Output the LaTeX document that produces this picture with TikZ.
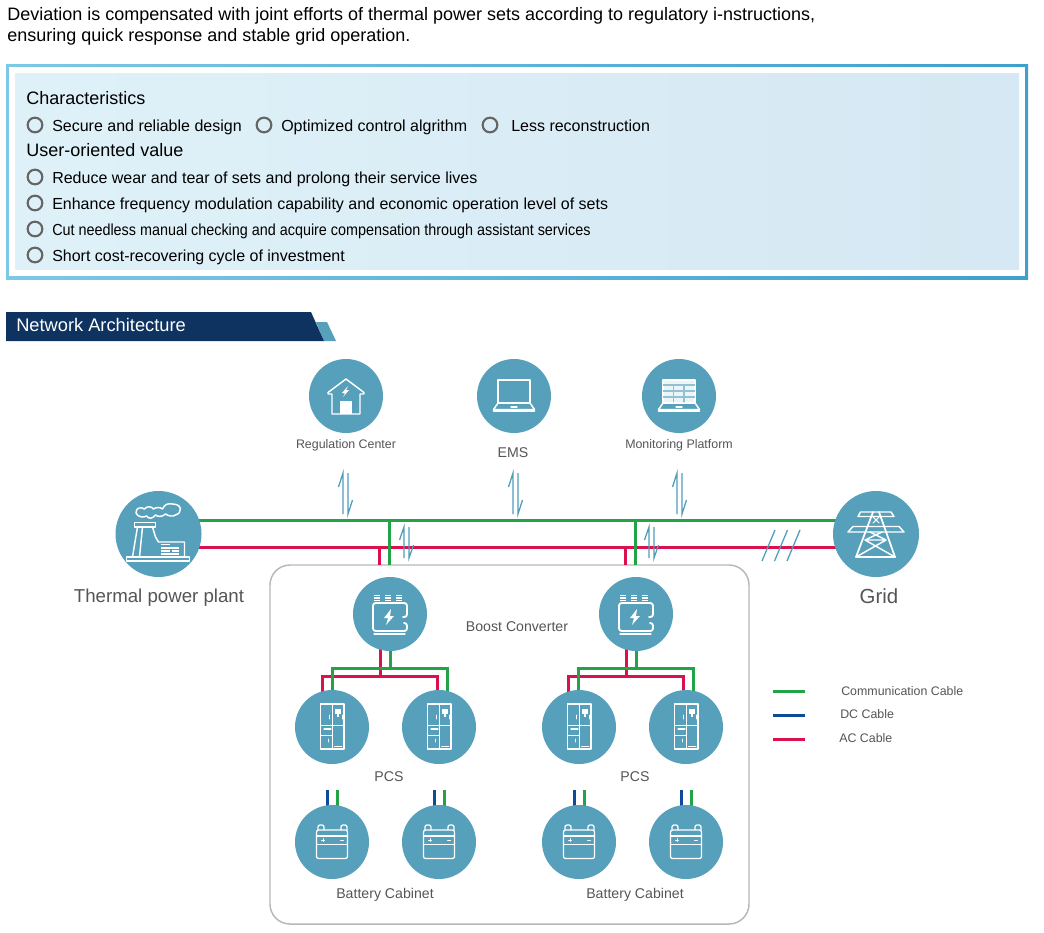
\documentclass[tikz,border=0pt]{standalone}
\usepackage{fontspec}
\setmainfont{Liberation Sans}
\newfontfamily\condfont[FakeStretch=0.898]{Liberation Sans}
\definecolor{tealc}{HTML}{56A0BB}
\definecolor{navyc}{HTML}{0E3360}
\definecolor{greenc}{HTML}{23A347}
\definecolor{redc}{HTML}{D9124E}
\definecolor{bluec}{HTML}{0F4A9A}
\definecolor{labelc}{HTML}{555555}
\definecolor{arrowc}{HTML}{4E9DBB}
\definecolor{ringc}{HTML}{666666}
\newcommand\txtF[1]{\fontsize{#1}{#1}\selectfont}
\tikzset{
  bigc/.style={circle,fill=tealc,minimum size=55.5pt,inner sep=0pt},
  hugec/.style={circle,fill=tealc,minimum size=64.5pt,inner sep=0pt},
  ico/.style={draw=white,line width=1.1pt,line join=round,line cap=round},
  lab/.style={text=labelc,inner sep=0pt,font=\txtF{9.3}},
  midlab/.style={text=labelc,inner sep=0pt,font=\txtF{10.6}},
  biglab/.style={text=labelc,inner sep=0pt},
  body/.style={anchor=base west,inner sep=0pt,text=black,font=\txtF{12}},
  headb/.style={anchor=base west,inner sep=0pt,text=black,font=\txtF{13.5}},
  greenl/.style={draw=greenc,line width=2.25pt},
  redl/.style={draw=redc,line width=2.25pt},
  bluel/.style={draw=bluec,line width=2.25pt},
  halfa/.style={draw=arrowc,line width=0.95pt},
  ringb/.style={draw=ringc,line width=1.6pt,circle,minimum size=11pt,inner sep=0pt},
}
\newcommand\halfpair[5]{%
  \coordinate (#1ut) at (#2,#3);
  \coordinate (#1ub) at (#2,#4);
  \coordinate (#1ub2) at (#2-4.5,#3+#5);
  \coordinate (#1dt) at (#2+5,#3);
  \coordinate (#1db) at (#2+5,#4);
  \coordinate (#1db2) at (#2+9.5,#4-#5);
  \draw[halfa] (#1ub2) -- (#1ut) -- (#1ub);
  \draw[halfa] (#1dt) -- (#1db) -- (#1db2);
}
\newcommand\laptopbase{%
  \draw[ico] (-16,7) -- (-20.5,13.5) -- (20.5,13.5) -- (16,7) -- cycle;
  \draw[ico,line width=1.4pt] (-20.5,15) -- (20.5,15);
  \draw[ico] (-3,11) -- (3,11);
}
\newcommand\pcsicon[2]{%
 \begin{scope}[shift={(#1,#2)}]
  \draw[ico] (-11.5,-23) rectangle (12,22);
  \draw[ico,line width=.55pt] (0.5,-23) -- (0.5,22) (-11.5,-2) -- (12,-2) (-11.5,8) -- (0.5,8);
  \fill[white] (2.5,-18) rectangle (9,-13);
  \fill[white] (5,-13) rectangle (7,-10.5);
  \draw[ico,line width=.55pt] (-3,-12) -- (-3,-8) (10,-12) -- (10,-8);
  \draw[ico,line width=.8pt] (-8,2) -- (-1,2);
  \draw[ico,line width=.7pt] (-4,12) -- (-4,15);
  \draw[ico,line width=.7pt] (2.5,19) -- (10,19);
 \end{scope}}
\newcommand\batticon[2]{%
 \begin{scope}[shift={(#1,#2)}]
  \draw[ico,line width=.95pt,rounded corners=1.5pt] (-15.5,-12) rectangle (15.5,16.5);
  \draw[ico,line width=.8pt] (-15.5,-6) -- (15.5,-6) (-15.5,2.3) -- (15.5,2.3);
  \draw[ico,line width=.95pt,rounded corners=1.5pt] (-14,-12) -- (-14,-17) -- (-8,-17) -- (-8,-12);
  \draw[ico,line width=.95pt,rounded corners=1.5pt] (9,-12) -- (9,-17) -- (15,-17) -- (15,-12);
  \draw[ico,line width=.5pt] (-10.5,-2) -- (-7.5,-2) (-9,-3.5) -- (-9,-.5) (8.5,-2) -- (11.5,-2);
 \end{scope}}
\newcommand\convicon[2]{%
 \begin{scope}[shift={(#1,#2)}]
  \foreach \cx in {-13,-2,9}{
    \draw[ico,line width=1pt,line cap=butt] (\cx-3,-18.5) -- (\cx+3,-18.5) (\cx-3,-16) -- (\cx+3,-16) (\cx-3,-13.5) -- (\cx+3,-13.5);
  }
  \draw[ico,line width=1.4pt,rounded corners=2pt] (13,3) -- (17,3) -- (17,-11) -- (-17,-11) -- (-17,17) -- (17,17) -- (17,9) -- (14,9);
  \draw[ico,line width=.9pt] (-16,20) -- (15,20);
  \fill[white] (1,-5) -- (-6,4) -- (-2,4) -- (-4,11) -- (4,2) -- (0,2) -- cycle;
 \end{scope}}
\begin{document}
\begin{tikzpicture}[x=0.75pt,y=-0.75pt]
\useasboundingbox (0,0) rectangle (1044,932);
\fill[white] (0,0) rectangle (1044,932);

% header text
\node[headb] (t1) at (7,20) {Deviation is compensated with joint efforts of thermal power sets according to regulatory i-nstructions,};
\node[headb] (t2) at (7,41) {ensuring quick response and stable grid operation.};

% framed panel
\shade[left color={rgb,255:red,124;green,200;blue,230},right color={rgb,255:red,63;green,160;blue,204}] (6,64) rectangle (1028,279);
\fill[white] (9,67) rectangle (1025,276);
\shade[left color={rgb,255:red,223;green,241;blue,248},right color={rgb,255:red,213;green,232;blue,243}] (15,73) rectangle (1019,269);

\node[headb] (c0) at (26,104) {Characteristics};
\node[ringb] (r1) at (35,125) {};
\node[body] (c1) at (52,131) {Secure and reliable design};
\node[ringb] (r2) at (264,125) {};
\node[body] (c2) at (281,131) {Optimized control algrithm};
\node[ringb] (r3) at (490,125) {};
\node[body] (c3) at (511,131) {Less reconstruction};
\node[headb] (u0) at (26,156) {User-oriented value};
\node[ringb] (r4) at (35,177) {};
\node[body] (u1) at (52,183) {Reduce wear and tear of sets and prolong their service lives};
\node[ringb] (r5) at (35,203) {};
\node[body] (u2) at (52,209) {Enhance frequency modulation capability and economic operation level of sets};
\node[ringb] (r6) at (35,229) {};
\node[body] (u3) at (52,235) {\condfont Cut needless manual checking and acquire compensation through assistant services};
\node[ringb] (r7) at (35,255) {};
\node[body] (u4) at (52,261) {Short cost-recovering cycle of investment};

% banner
\fill[tealc] (316,322) -- (327,322) -- (336,341) -- (324,341) -- cycle;
\fill[navyc] (6,312) -- (311,312) -- (324,341) -- (6,341) -- cycle;
\node[anchor=base west,inner sep=0pt,text=white,font=\txtF{13.7}] (nt) at (16,331) {Network Architecture};

% rounded container
\draw[draw=black!28,line width=1.1pt,rounded corners=15pt] (270,565) rectangle (749,924);

% named connection points
\coordinate (busGl) at (195,520);
\coordinate (busGr) at (840,520);
\coordinate (busRl) at (195,547);
\coordinate (busRr) at (840,547);
\coordinate (gv1t) at (389,520);
\coordinate (gv1b) at (389,565);
\coordinate (rv1t) at (379,547);
\coordinate (rv1b) at (379,565);
\coordinate (gv2t) at (635,520);
\coordinate (gv2b) at (635,565);
\coordinate (rv2t) at (625,547);
\coordinate (rv2b) at (625,565);

\draw[greenl] (busGl) -- (busGr);
\draw[redl] (busRl) -- (busRr);
\draw[redl] (rv1t) -- (rv1b);
\draw[redl] (rv2t) -- (rv2b);
\draw[greenl] (gv1t) -- (gv1b);
\draw[greenl] (gv2t) -- (gv2b);

% Branch wiring under converters
\foreach \nm/\ox in {a/0,b/246}{
  \coordinate (\nm rt) at (380+\ox,645);
  \coordinate (\nm rj) at (380+\ox,676);
  \coordinate (\nm gt) at (390+\ox,645);
  \coordinate (\nm gj) at (390+\ox,668);
  \coordinate (\nm gl) at (332+\ox,668);
  \coordinate (\nm gld) at (332+\ox,695);
  \coordinate (\nm gr) at (447+\ox,668);
  \coordinate (\nm grd) at (447+\ox,695);
  \coordinate (\nm rl) at (322+\ox,676);
  \coordinate (\nm rld) at (322+\ox,695);
  \coordinate (\nm rr) at (437+\ox,676);
  \coordinate (\nm rrd) at (437+\ox,695);
  \draw[redl] (\nm rt) -- (\nm rj);
  \draw[redl] (\nm rld) -- (\nm rl) -- (\nm rr) -- (\nm rrd);
  \draw[greenl] (\nm gt) -- (\nm gj);
  \draw[greenl] (\nm gld) -- (\nm gl) -- (\nm gr) -- (\nm grd);
}
% battery stubs
\foreach \nm/\bx in {p/332,q/439,s/579,t/686}{
  \coordinate (\nm bt) at (\bx-5,790);
  \coordinate (\nm bb) at (\bx-5,810);
  \coordinate (\nm gt) at (\bx+5,790);
  \coordinate (\nm gb) at (\bx+5,810);
  \draw[bluel] (\nm bt) -- (\nm bb);
  \draw[greenl] (\nm gt) -- (\nm gb);
}

% half arrow pairs and slashes
\halfpair{h1}{343}{473}{514}{14}
\halfpair{h2}{513}{473}{514}{14}
\halfpair{h3}{677}{473}{514}{14}
\halfpair{h4}{404}{527}{558}{13}
\halfpair{h5}{649}{527}{558}{13}
\foreach \nm/\sx in {sa/762,sb/774.5,sc/787}{
  \coordinate (\nm l) at (\sx,561);
  \coordinate (\nm u) at (\sx+13,530);
  \draw[halfa] (\nm l) -- (\nm u);
}

% circles
\node[bigc] (reg) at (346,396) {};
\node[bigc] (ems) at (514,396) {};
\node[bigc] (mon) at (679,396) {};
\node[hugec] (therm) at (158.5,534) {};
\node[hugec] (grid) at (876,534) {};
\node[bigc] (conv1) at (390,614) {};
\node[bigc] (conv2) at (636,614) {};
\node[bigc] (pcs1) at (332,727) {};
\node[bigc] (pcs2) at (439,727) {};
\node[bigc] (pcs3) at (579,727) {};
\node[bigc] (pcs4) at (686,727) {};
\node[bigc] (bat1) at (332,842) {};
\node[bigc] (bat2) at (439,842) {};
\node[bigc] (bat3) at (579,842) {};
\node[bigc] (bat4) at (686,842) {};

% house icon
\begin{scope}[shift={(346,396)}]
  \draw[ico] (-14,-2) -- (-18,-2) -- (-18,-3.5) -- (0,-17) -- (18,-3.5) -- (18,-2) -- (14,-2) -- (14,18) -- (-14,18) -- cycle;
  \fill[white] (-6,5) rectangle (6,18);
  \fill[white] (2,-10) -- (-4,-3) -- (-1,-3) -- (-3,1) -- (3,-6) -- (0,-6) -- cycle;
\end{scope}
% laptop icon
\begin{scope}[shift={(514,396)}]
  \draw[ico] (-16,-16) rectangle (16,7);
  \laptopbase
\end{scope}
% monitoring icon
\begin{scope}[shift={(679,396)}]
  \draw[ico,fill=white!88!tealc] (-16,-16) rectangle (16,7);
  \draw[draw=tealc!65!white,line width=.9pt] (-16,-11) -- (16,-11) (-16,-5) -- (16,-5) (-16,1) -- (16,1) (-5.5,-11) -- (-5.5,7) (5,-11) -- (5,7);
  \laptopbase
\end{scope}
% plant icon
\begin{scope}[shift={(158.5,534)}]
  \draw[ico] (-22.5,-21) .. controls (-23,-27) and (-17,-27) .. (-14,-25)
     .. controls (-12,-28) and (-7,-28) .. (-5,-25) .. controls (-3,-27) and (2,-27) .. (4,-25)
     .. controls (6,-29) and (8,-31) .. (14,-30) .. controls (24,-30) and (24,-21) .. (17,-19)
     .. controls (14,-17) and (10,-18) .. (7,-20) .. controls (4,-17) and (-1,-17) .. (-3,-19)
     .. controls (-6,-15) and (-10,-15) .. (-12,-18) .. controls (-15,-16) and (-21,-17) .. (-22.5,-21) -- cycle;
  \draw[ico] (-24,-11.5) rectangle (-3,-7);
  \draw[ico] (-21,-7) -- (-26,23);
  \draw[ico] (-16,-7) -- (-19,23);
  \draw[ico] (-6,-7) -- (-3,3) -- (0,8) -- (26,8) -- (26,23);
  \draw[ico] (-32,23) rectangle (31,27);
  \draw[white,line width=1.2pt] (2,10.5) -- (11,10.5) (2,13.8) -- (20,13.8) (2,17) -- (11,17) (13,17) -- (20,17) (2,20) -- (20,20);
\end{scope}
% tower icon
\begin{scope}[shift={(876,534)}]
  \draw[ico] (-18,-17.5) -- (-15.5,-22) -- (15,-22) -- (18,-17.5) -- cycle;
  \draw[ico] (-28,-2) -- (-23,-7.5) -- (23,-7.5) -- (28,-2) -- cycle;
  \draw[ico,line width=1.3pt] (-3,-22) -- (-20,23) -- (19,23) -- (3,-22);
  \draw[ico,line width=.8pt] (-3,-17) -- (3,-11) (3,-17) -- (-3,-11);
  \draw[ico] (-11,6) -- (10,6) (-11,6) -- (19,23) (10,6) -- (-20,23) (-6,-2) -- (10,6) (6,-2) -- (-11,6);
\end{scope}
\convicon{390}{614}
\convicon{636}{614}
\pcsicon{332}{727}
\pcsicon{439}{727}
\pcsicon{579}{727}
\pcsicon{686}{727}
\batticon{332}{842}
\batticon{439}{842}
\batticon{579}{842}
\batticon{686}{842}

% labels
\node[lab] (lreg) at (346,445) {Regulation Center};
\node[midlab] (lems) at (513,453) {EMS};
\node[lab] (lmon) at (679,445) {Monitoring Platform};
\node[biglab,font=\txtF{14}] (lth) at (159,597.5) {Thermal power plant};
\node[biglab,font=\txtF{15.3}] (lgr) at (879,596) {Grid};
\node[midlab] (lbc) at (517,627) {Boost Converter};
\node[midlab] (lp1) at (389,777) {PCS};
\node[midlab] (lp2) at (635,777) {PCS};
\node[midlab] (lb1) at (385,895) {Battery Cabinet};
\node[midlab] (lb2) at (635,895) {Battery Cabinet};

% legend
\coordinate (lg1a) at (773,691); \coordinate (lg1b) at (805,691);
\coordinate (lg2a) at (773,715); \coordinate (lg2b) at (805,715);
\coordinate (lg3a) at (773,739); \coordinate (lg3b) at (805,739);
\draw[greenl] (lg1a) -- (lg1b);
\draw[bluel] (lg2a) -- (lg2b);
\draw[redl] (lg3a) -- (lg3b);
\node[lab,anchor=west] (lt1) at (841,691) {Communication Cable};
\node[lab,anchor=west] (lt2) at (840,714) {DC Cable};
\node[lab,anchor=west] (lt3) at (839,738) {AC Cable};
\end{tikzpicture}
\end{document}
